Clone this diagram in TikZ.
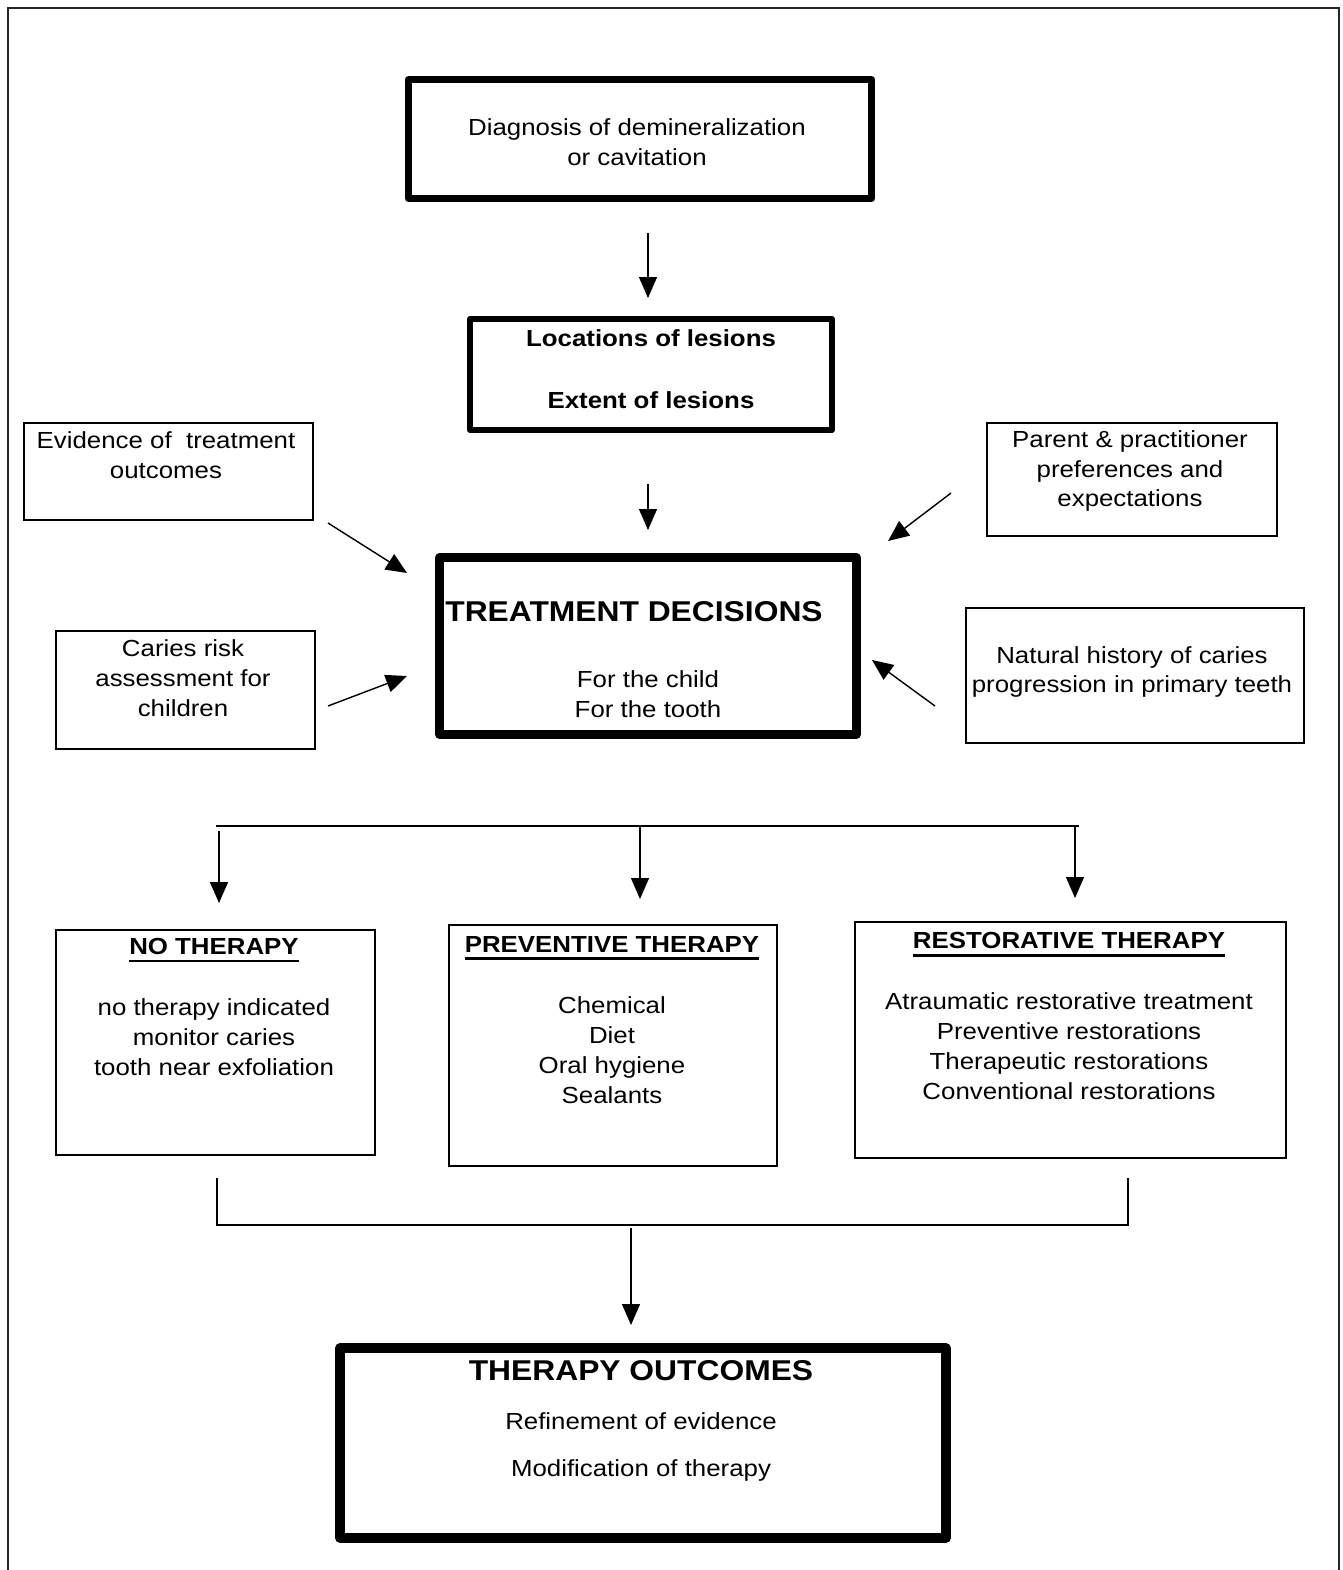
\documentclass[tikz,border=0pt]{standalone}
\usepackage{fontspec}
\setmainfont{Liberation Sans}[FakeStretch=1.11]
\usetikzlibrary{arrows.meta}
\newsavebox\ulbox
\newcommand\hdul[1]{\sbox\ulbox{#1}\rlap{\rule[-4.6pt]{\wd\ulbox}{1.7pt}}\usebox\ulbox}
\tikzset{
  thinbox/.style={draw, line width=0.9pt, inner sep=0pt},
  thickbox/.style={draw, line width=4pt, line join=round, inner sep=0pt},
  txt/.style={align=center, inner sep=0pt, font=\fontsize{13.25}{17}\selectfont},
  headtxt/.style={align=center, inner sep=0pt, font=\fontsize{16.3}{19}\selectfont\bfseries},
  arr/.style={-{Triangle[length=4.2mm, width=3.6mm]}, line width=0.8pt},
}

\begin{document}
\begin{tikzpicture}[x=0.02cm, y=-0.02cm]
    \useasboundingbox (0,0) rectangle (1343,1570);
    \draw[line width=1.2pt, black!85] (8,1580) -- (8,8) -- (1339,8) -- (1339,1580);

    \node[thickbox, minimum width=9.26cm, minimum height=2.38cm] (diag) at (640,139) {};
    \node[thickbox, line width=3.4pt, minimum width=7.24cm, minimum height=2.22cm] (loc) at (651,374.5) {};
    \node[thinbox, minimum width=5.78cm, minimum height=1.94cm] (evid) at (168.5,471.5) {};
    \node[thinbox, minimum width=5.8cm, minimum height=2.26cm] (pref) at (1132,479.5) {};
    \node[thickbox, line width=5pt, minimum width=8.34cm, minimum height=3.54cm] (dec) at (648,646) {};
    \node[thinbox, minimum width=5.18cm, minimum height=2.36cm] (risk) at (185.5,690) {};
    \node[thinbox, minimum width=6.76cm, minimum height=2.7cm] (hist) at (1135,675.5) {};
    \node[thinbox, minimum width=6.38cm, minimum height=4.5cm] (none) at (215.5,1042.5) {};
    \node[thinbox, minimum width=6.56cm, minimum height=4.82cm] (prev) at (613,1045.5) {};
    \node[thinbox, minimum width=8.62cm, minimum height=4.72cm] (rest) at (1070.5,1040) {};
    \node[thickbox, line width=5.5pt, minimum width=12.12cm, minimum height=3.8cm] (outc) at (643,1443) {};

    \node[txt] (diag text) at (637,142) {Diagnosis of demineralization\\or cavitation};
    \node[txt] (loc text) at (651,369) {\textbf{Locations of lesions}\\[18pt]\textbf{Extent of lesions}};
    \node[txt] (evid text) at (166,455) {Evidence of~~treatment\\outcomes};
    \node[txt] (pref text) at (1130,471) {Parent \& practitioner\\preferences and\\expectations};
    \node[headtxt] (dec head) at (634,612) {TREATMENT DECISIONS};
    \node[txt] (dec text) at (648,694) {For the child\\For the tooth};
    \node[txt] (risk text) at (183,678) {Caries risk\\assessment for\\children};
    \node[txt] (hist text) at (1132,672) {Natural history of caries\\progression in primary teeth};
    \node[txt] (none text) at (214,1007) {\hdul{\textbf{NO THERAPY}}\\[18pt]no therapy indicated\\monitor caries\\tooth near exfoliation};
    \node[txt] (prev text) at (612,1020) {\hdul{\textbf{PREVENTIVE THERAPY}}\\[18pt]Chemical\\Diet\\Oral hygiene\\Sealants};
    \node[txt] (rest text) at (1069,1016) {\hdul{\textbf{RESTORATIVE THERAPY}}\\[18pt]Atraumatic restorative treatment\\Preventive restorations\\Therapeutic restorations\\Conventional restorations};
    \node[headtxt] (outc head) at (641,1371) {THERAPY OUTCOMES};
    \node[txt] (outc text) at (641,1447) {Refinement of evidence\\[10pt]Modification of therapy};

    \coordinate (diag out) at (648,233);
    \coordinate (loc in) at (648,298);
    \coordinate (loc out) at (648,484);
    \coordinate (dec n) at (648,530);
    \coordinate (evid out) at (328,523);
    \coordinate (dec nw) at (407,573);
    \coordinate (pref out) at (951,493);
    \coordinate (dec ne) at (888,541);
    \coordinate (risk out) at (328,706);
    \coordinate (dec w) at (407,676);
    \coordinate (hist out) at (935,706);
    \coordinate (dec e) at (872,660);
    \coordinate (split l) at (216,826);
    \coordinate (split m) at (640,826);
    \coordinate (split r) at (1079,826);
    \coordinate (none out) at (219,831);
    \coordinate (rest out) at (1075,826);
    \coordinate (none in) at (219,903);
    \coordinate (prev in) at (640,899);
    \coordinate (rest in) at (1075,898);
    \coordinate (join l) at (217,1178);
    \coordinate (join r) at (1128,1178);
    \coordinate (join m) at (631,1228);
    \coordinate (outc in) at (631,1325);

    \draw[arr] (diag out) -- (loc in);
    \draw[arr] (loc out) -- (dec n);
    \draw[arr] (evid out) -- (dec nw);
    \draw[arr] (pref out) -- (dec ne);
    \draw[arr] (risk out) -- (dec w);
    \draw[arr] (hist out) -- (dec e);

    \draw[line width=1pt] (split l) -- (split r);
    \draw[arr] (none out) -- (none in);
    \draw[arr] (split m) -- (prev in);
    \draw[arr] (rest out) -- (rest in);

    \draw[line width=0.9pt] (join l) -- (join l |- 0,1225) -- (join r |- 0,1225) -- (join r);
    \draw[arr] (join m) -- (outc in);
\end{tikzpicture}
\end{document}
